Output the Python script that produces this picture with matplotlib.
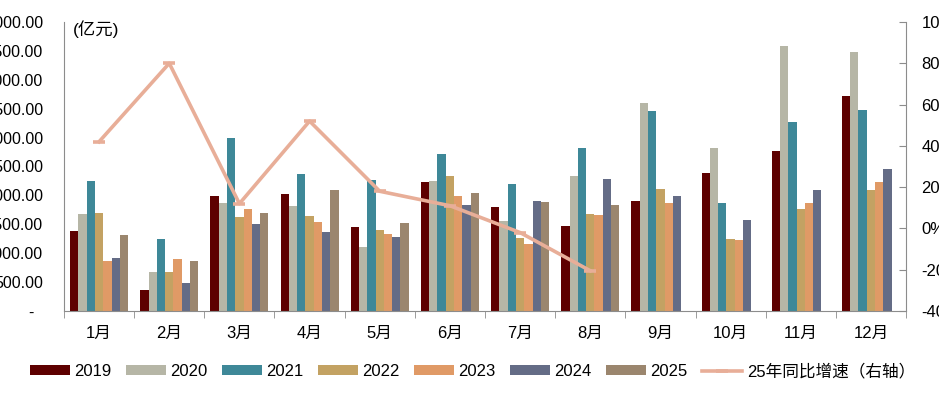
import numpy as np
import matplotlib
matplotlib.use("Agg")
import matplotlib.pyplot as plt
from matplotlib.ticker import FixedLocator, FuncFormatter

plt.rcParams['font.family'] = ['Liberation Sans', 'Noto Sans CJK SC']

# data (亿元)
months = ['1月', '2月', '3月', '4月', '5月', '6月', '7月', '8月', '9月', '10月', '11月', '12月']
years = ['2019', '2020', '2021', '2022', '2023', '2024', '2025']

v2019 = [1390, 365, 1990, 2025, 1455, 2230, 1800, 1470, 1905, 2390, 2770, 3720]
v2020 = [1680, 675, 1870, 1820, 1105, 2250, 1555, 2335, 3600, 2820, 4585, 4480]
v2021 = [2250, 1245, 2995, 2370, 2265, 2715, 2195, 2820, 3460, 1870, 3270, 3475]
v2022 = [1700, 675, 1625, 1645, 1400, 2335, 1265, 1680, 2110, 1245, 1765, 2095]
v2023 = [865, 900, 1765, 1540, 1330, 1990, 1160, 1660, 1870, 1230, 1870, 2230]
v2024 = [920, 485, 1505, 1365, 1280, 1835, 1905, 2285, 1990, 1575, 2095, 2455]
v2025 = [1315, 865, 1695, 2095, 1520, 2040, 1885, 1835, np.nan, np.nan, np.nan, np.nan]

growth25 = [42, 80, 12, 52, 18, 11, -2, -20.5]

series = [v2019, v2020, v2021, v2022, v2023, v2024, v2025]
colors = ['#5E0000', '#B6B6A6', '#3E8898', '#C3A263', '#E09A66', '#646C86', '#9B866E']
line_color = '#E8AE98'
axis_color = '#8C8C8C'

fig = plt.figure(figsize=(9.39, 3.99), dpi=100)
ax = fig.add_axes([64 / 939, 88 / 399, 842 / 939, 289 / 399])

x = np.arange(len(months))
bw = 0.118
for k, (vals, c) in enumerate(zip(series, colors)):
    ax.bar(x + (k - 3) * bw, vals, width=bw, color=c, label=years[k], zorder=2)

ax.set_xlim(-0.5, len(months) - 0.5)
ax.set_ylim(0, 5000)
ax.set_yticks(np.arange(0, 5001, 500))
# left labels run off the figure edge, as in the source image
ax.yaxis.set_major_formatter(FuncFormatter(lambda v, p: '-  ' if v == 0 else f'{v:,.2f}'))
ax.tick_params(axis='y', length=0, pad=15, labelsize=11.5, colors='black')

ax.set_xticks(x)
ax.set_xticklabels(months)
ax.xaxis.set_minor_locator(FixedLocator(np.arange(-0.5, len(months), 1)))
ax.tick_params(axis='x', which='major', length=0, pad=11, labelsize=12)
ax.tick_params(axis='x', which='minor', length=5, color=axis_color, direction='out')

for s in ['top', 'right']:
    ax.spines[s].set_visible(False)
for s in ['left', 'bottom']:
    ax.spines[s].set_color(axis_color)

ax.text(0.011, 0.976, '(亿元)', transform=ax.transAxes, fontsize=12.5, va='center', ha='left')

ax2 = ax.twinx()
ax2.plot(x[:len(growth25)], growth25, color=line_color, lw=2.6, marker='_', ms=9, mew=2.6,
         label='25年同比增速（右轴）', zorder=3)
ax2.set_ylim(-40, 100)
ax2.set_yticks(np.arange(-40, 101, 20))
ax2.yaxis.set_major_formatter(FuncFormatter(lambda v, p: f'{v:.0f}%'))
ax2.tick_params(axis='y', direction='in', length=5, color=axis_color, pad=11, labelsize=12)
for s in ['top', 'left', 'bottom']:
    ax2.spines[s].set_visible(False)
ax2.spines['right'].set_color(axis_color)

h1, l1 = ax.get_legend_handles_labels()
h2, l2 = ax2.get_legend_handles_labels()
fig.legend(h1 + h2, l1 + l2, loc='center', bbox_to_anchor=(0.503, 0.07), ncol=8, frameon=False,
           fontsize=12, handlelength=2.4, handleheight=0.5, handletextpad=0.25, columnspacing=0.88)

fig.savefig('out.png', dpi=100)
